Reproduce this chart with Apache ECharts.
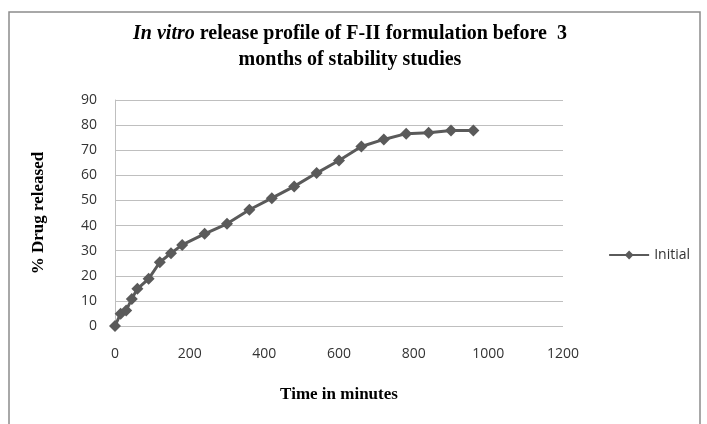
<!DOCTYPE html>
<html>
<head>
<meta charset="utf-8">
<script src="https://cdn.jsdelivr.net/npm/echarts@6/dist/echarts.min.js"></script>
<style>
  html, body { margin: 0; padding: 0; background: #fff; }
  #chart { width: 707px; height: 424px; }
</style>
</head>
<body>
<div id="chart"></div>
<script>
// release data
const timeMinutes = [0, 15, 30, 45, 60, 90, 120, 150, 180, 240, 300, 360, 420, 480, 540, 600, 660, 720, 780, 840, 900, 960]
const releasedInitial = [0, 4.9, 6.2, 10.8, 14.8, 18.8, 25.4, 29, 32.3, 36.7, 40.7, 46.3, 50.9, 55.6, 60.9, 65.9, 71.5, 74.3, 76.6, 77, 77.9, 77.9]
const xTicks = [0, 200, 400, 600, 800, 1000, 1200]
const yTicks = [0, 10, 20, 30, 40, 50, 60, 70, 80, 90]

const serif = '"Liberation Serif", "Times New Roman", serif'
const sans = '"Open Sans", "Noto Sans", sans-serif'

const chart = echarts.init(document.getElementById('chart'))

chart.setOption({
  animation: false,
  backgroundColor: '#fff',
  title: {
    left: 345,
    top: 16,
    textAlign: 'center',
    text: '{i|In vitro} {b|release profile of F-II formulation before  3}\n{b|months of stability studies}',
    textStyle: {
      lineHeight: 26,
      rich: {
        i: { fontFamily: serif, fontStyle: 'italic', fontSize: 20, color: '#000', lineHeight: 26 },
        b: { fontFamily: serif, fontWeight: 'bold', fontSize: 20, color: '#000', lineHeight: 26 }
      }
    }
  },
  legend: {
    right: 12,
    top: 243,
    itemWidth: 40,
    itemHeight: 11,
    itemGap: 4,
    data: ['Initial'],
    textStyle: { fontFamily: sans, fontSize: 14, color: '#333' }
  },
  grid: {
    left: 115,
    right: 144,
    top: 100,
    bottom: 98
  },
  xAxis: {
    type: 'value',
    min: 0,
    max: xTicks[xTicks.length - 1],
    interval: 200,
    name: 'Time in minutes',
    nameLocation: 'middle',
    nameGap: 60,
    nameTextStyle: { fontFamily: serif, fontWeight: 'bold', fontSize: 17, color: '#000' },
    axisLine: { show: false },
    axisTick: { show: false },
    splitLine: { show: false },
    axisLabel: { fontFamily: sans, fontSize: 14, color: '#333', margin: 21, formatter: v => String(v) }
  },
  yAxis: {
    type: 'value',
    min: 0,
    max: yTicks[yTicks.length - 1],
    interval: 10,
    name: '% Drug released',
    nameLocation: 'middle',
    nameGap: 68,
    nameTextStyle: { fontFamily: serif, fontWeight: 'bold', fontSize: 17, color: '#000' },
    axisLine: { show: true, lineStyle: { color: '#bfbfbf', width: 1 } },
    axisTick: { show: false },
    splitLine: { show: true, lineStyle: { color: '#bfbfbf', width: 1 } },
    axisLabel: { fontFamily: sans, fontSize: 14, color: '#333', margin: 18 }
  },
  series: [
    {
      name: 'Initial',
      type: 'line',
      data: timeMinutes.map((t, i) => [t, releasedInitial[i]]),
      symbol: 'diamond',
      symbolSize: 12,
      lineStyle: { color: '#5a5a5a', width: 3 },
      itemStyle: { color: '#5a5a5a' }
    }
  ],
  graphic: [
    {
      type: 'rect',
      shape: { x: 9, y: 12, width: 691, height: 420 },
      style: { fill: 'none', stroke: '#8c8c8c', lineWidth: 1.5 },
      silent: true
    }
  ]
})
</script>
</body>
</html>
